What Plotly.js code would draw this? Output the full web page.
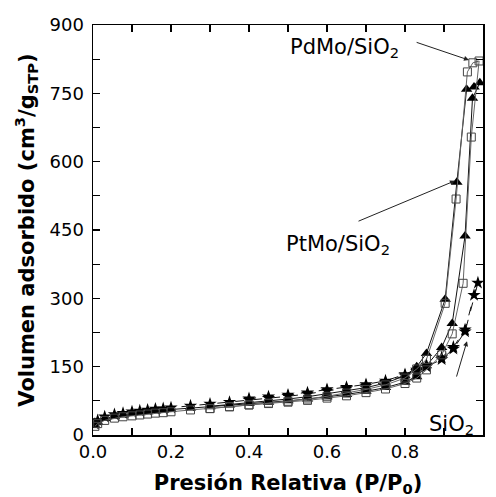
<!DOCTYPE html>
<html>
<head>
<meta charset="utf-8">
<script src="https://cdn.plot.ly/plotly-3.0.1.min.js"></script>
<style>html,body{margin:0;padding:0;background:#fff;}#chart{width:496px;height:497px;}</style>
</head>
<body>
<div id="chart"></div>
<script>
// Shared low/mid pressure grid (adsorption)
const lowP = [0.005,0.012,0.03,0.055,0.077,0.10,0.12,0.14,0.16,0.18,0.20,0.25,0.30,0.35,0.40,0.45,0.50,0.55,0.60,0.65,0.70,0.75,0.80,0.83];

// PdMo/SiO2 (open squares)
const pdAdsP = lowP.concat([0.855,0.894,0.921,0.949,0.970,0.990]);
const pdAdsV = [19,25,32,37,40,42,44,46,48,49,51,55,58,62,66,69,72,76,81,86,93,101,113,125,143,176,222,333,654,821];
const pdDesP = [0.974,0.960,0.931,0.903,0.855,0.83,0.80,0.75,0.70,0.65,0.60,0.55,0.50,0.45,0.40,0.35,0.30];
const pdDesV = [817,797,518,289,166,145,125,110,100,92,85,79,74,70,66,62,58];

// PtMo/SiO2 (filled triangles)
const ptAdsP = lowP.concat([0.855,0.894,0.921,0.954,0.973,0.992]);
const ptAdsV = [21,28,36,41,44,47,49,51,53,54,56,59,62,66,69,72,75,79,84,89,96,104,116,128,152,192,245,437,739,773];
const ptDesP = [0.977,0.958,0.933,0.903,0.855,0.83,0.80,0.75,0.70,0.65,0.60,0.55,0.50,0.45,0.40,0.35,0.30];
const ptDesV = [764,759,555,298,179,150,130,114,104,97,90,84,79,75,71,67,63];

// SiO2 (filled stars)
const siAdsP = lowP.concat([0.855,0.894,0.924,0.954,0.987]);
const siAdsV = [24,32,40,45,48,51,53,55,57,58,60,64,68,72,77,81,85,90,97,102,108,116,130,140,150,166,189,227,334];
const siDesP = [0.977,0.954,0.924,0.894,0.855,0.83,0.80,0.75,0.70,0.65,0.60,0.55,0.50,0.45,0.40];
const siDesV = [307,231,193,170,154,143,133,119,111,105,100,93,88,84,80];

// Axis ticks
const xTicks = [0.0,0.2,0.4,0.6,0.8,1.0];
const xTickText = ['0.0','0.2','0.4','0.6','0.8','1.0'];
const yTicks = [0,150,300,450,600,750,900];
const yTickText = ['0','150','300','450','600','750','900'];

// Labels
const labels = [
  {text:'PdMo/SiO<sub>2</sub>', tx:0.644, ty:849, ax:0.826, ay:863, hx:0.964, hy:823},
  {text:'PtMo/SiO<sub>2</sub>', tx:0.628, ty:417, ax:0.677, ay:468, hx:0.928, hy:558},
  {text:'SiO<sub>2</sub>', tx:0.918, ty:22, ax:0.931, ay:125, hx:0.959, hy:206}
];

const FONT = 'DejaVu Sans, sans-serif';

function loop(aP, aV, dP, dV){ return {x: aP.concat(dP), y: aV.concat(dV)}; }

const pd = loop(pdAdsP,pdAdsV,pdDesP,pdDesV);
const pt = loop(ptAdsP,ptAdsV,ptDesP,ptDesV);
const si = loop(siAdsP,siAdsV,siDesP,siDesV);

const traces = [
  {x:si.x, y:si.y, mode:'lines+markers', name:'SiO2',
   line:{color:'#111', width:1, dash:'dash'},
   marker:{symbol:'star', size:10, color:'#000', line:{width:0}}},
  {x:pt.x, y:pt.y, mode:'lines+markers', name:'PtMo/SiO2',
   line:{color:'#111', width:1},
   marker:{symbol:'triangle-up', size:10, color:'#000', line:{width:0}}},
  {x:pd.x, y:pd.y, mode:'lines+markers', name:'PdMo/SiO2',
   line:{color:'#666', width:1},
   marker:{symbol:'square-open', size:8, color:'#444', line:{width:1}}}
];

const annotations = [];
labels.forEach(l => {
  annotations.push({x:l.tx, y:l.ty, xref:'x', yref:'y', text:l.text, showarrow:false,
    font:{family:FONT, size:21, color:'#000'}});
  annotations.push({x:l.hx, y:l.hy, ax:l.ax, ay:l.ay, xref:'x', yref:'y', axref:'x', ayref:'y',
    text:'', showarrow:true, arrowhead:2, arrowsize:1, arrowwidth:1, arrowcolor:'#222'});
});

const layout = {
  width:496, height:497,
  margin:{l:93, r:13, t:25, b:62},
  paper_bgcolor:'#fff', plot_bgcolor:'#fff',
  showlegend:false,
  font:{family:FONT, size:18, color:'#000'},
  xaxis:{
    range:[0,1.0], tickvals:xTicks, ticktext:xTickText,
    ticks:'inside', ticklen:7, tickwidth:1.3, tickcolor:'#000',
    minor:{dtick:0.1, ticks:'inside', ticklen:7, tickwidth:1.3, tickcolor:'#000'},
    showline:true, linecolor:'#000', linewidth:1.5, mirror:'ticks',
    showgrid:false, zeroline:false,
    tickfont:{family:FONT, size:18},
    title:{text:'Presión Relativa (P/P<sub>0</sub>)', font:{family:FONT, size:21, weight:'bold'}, standoff:14}
  },
  yaxis:{
    range:[0,900], tickvals:yTicks, ticktext:yTickText,
    ticks:'inside', ticklen:7, tickwidth:1.3, tickcolor:'#000',
    minor:{dtick:75, ticks:'inside', ticklen:7, tickwidth:1.3, tickcolor:'#000'},
    showline:true, linecolor:'#000', linewidth:1.5, mirror:'ticks',
    showgrid:false, zeroline:false,
    ticklabelstandoff:4,
    tickfont:{family:FONT, size:18},
    title:{text:'Volumen adsorbido (cm<sup>3</sup>/g<sub>STP</sub>)', font:{family:FONT, size:21, weight:'bold'}, standoff:9}
  },
  annotations: annotations
};

Plotly.newPlot('chart', traces, layout, {staticPlot:true, displayModeBar:false});
</script>
</body>
</html>
